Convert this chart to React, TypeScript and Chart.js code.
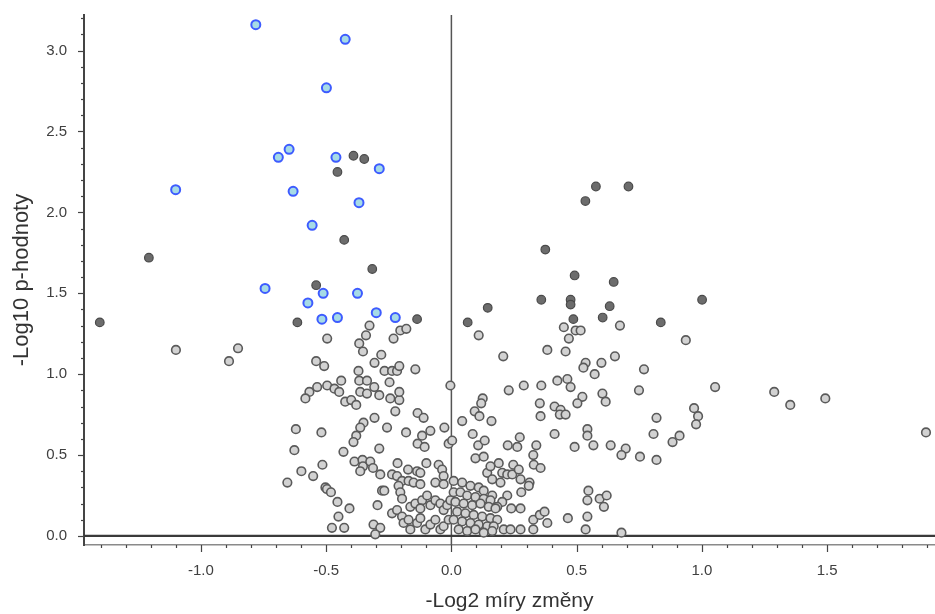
import { useEffect, useRef } from 'react';
import { Chart, registerables } from 'chart.js';

Chart.register(...registerables);

const xTickValues = [-1.0, -0.5, 0.0, 0.5, 1.0, 1.5];
const yTickValues = [0.0, 0.5, 1.0, 1.5, 2.0, 2.5, 3.0];
const xMin = -1.467;
const xMax = 1.931;
const yMin = -0.056;
const yMax = 3.22;
const xTitle = '-Log2 míry změny';
const yTitle = '-Log10 p-hodnoty';

// significant (blue) points [log2FC, -log10 p]
const bluePoints: [number, number][] = [
  [-0.781, 3.16], [-0.424, 3.07], [-0.499, 2.77], [-0.648, 2.39], [-0.691, 2.34],
  [-0.461, 2.34], [-0.288, 2.27], [-1.101, 2.14], [-0.632, 2.13], [-0.369, 2.06],
  [-0.556, 1.92], [-0.744, 1.53], [-0.512, 1.50], [-0.375, 1.50], [-0.573, 1.44],
  [-0.300, 1.38], [-0.517, 1.34], [-0.455, 1.35], [-0.224, 1.35],
];

// dark grey points
const darkPoints: [number, number][] = [
  [-0.391, 2.35], [-0.348, 2.33], [-0.455, 2.25], [-0.428, 1.83], [-0.316, 1.65],
  [-0.540, 1.55], [-0.615, 1.32], [-0.137, 1.34], [-1.208, 1.72], [-1.404, 1.32],
  [0.577, 2.16], [0.707, 2.16], [0.535, 2.07], [0.375, 1.77], [0.492, 1.61],
  [0.648, 1.57], [0.359, 1.46], [0.476, 1.46], [0.476, 1.43], [1.001, 1.46],
  [0.632, 1.42], [0.145, 1.41], [0.065, 1.32], [0.487, 1.34], [0.604, 1.35],
  [0.836, 1.32],
];

// light grey points
const grayPoints: [number, number][] = [
  [-1.10, 1.15], [-0.888, 1.08], [-0.852, 1.16],
  [-0.496, 1.22], [-0.540, 1.08], [-0.508, 1.05], [-0.496, 0.93], [-0.536, 0.92],
  [-0.567, 0.89], [-0.583, 0.85], [-0.621, 0.66], [-0.519, 0.64], [-0.627, 0.53],
  [-0.515, 0.44], [-0.599, 0.40], [-0.552, 0.37], [-0.655, 0.33], [-0.503, 0.30],
  [-0.327, 1.30], [-0.341, 1.24], [-0.368, 1.19], [-0.353, 1.14], [-0.204, 1.27],
  [-0.18, 1.28], [-0.231, 1.22], [-0.28, 1.12], [-0.307, 1.07], [-0.371, 1.02],
  [-0.267, 1.02], [-0.237, 1.02], [-0.217, 1.02], [-0.208, 1.05], [-0.144, 1.03],
  [-0.44, 0.96], [-0.467, 0.91], [-0.448, 0.89], [-0.368, 0.96], [-0.337, 0.96],
  [-0.364, 0.89], [-0.337, 0.88], [-0.308, 0.92], [-0.288, 0.87], [-0.424, 0.83],
  [-0.40, 0.84], [-0.38, 0.81], [-0.244, 0.85], [-0.208, 0.84], [-0.208, 0.89],
  [-0.247, 0.95], [-0.224, 0.77], [-0.307, 0.73], [-0.135, 0.76], [-0.111, 0.73],
  [-0.004, 0.93], [-0.351, 0.70], [-0.364, 0.67], [-0.38, 0.62], [-0.391, 0.58],
  [-0.257, 0.67], [-0.181, 0.64], [-0.117, 0.62], [-0.084, 0.65], [-0.135, 0.57],
  [-0.107, 0.55], [-0.028, 0.67], [-0.011, 0.57], [0.003, 0.59],
  [-0.431, 0.52], [-0.288, 0.54], [-0.387, 0.46], [-0.355, 0.47], [-0.353, 0.43],
  [-0.324, 0.46], [-0.313, 0.42], [-0.364, 0.40], [-0.215, 0.45], [-0.10, 0.45],
  [-0.284, 0.38], [-0.237, 0.38], [-0.217, 0.37], [-0.197, 0.34], [-0.211, 0.31],
  [-0.173, 0.41], [-0.137, 0.40], [-0.124, 0.39], [-0.051, 0.44], [-0.037, 0.41],
  [-0.031, 0.37], [-0.064, 0.33], [-0.031, 0.32], [-0.171, 0.34], [-0.151, 0.33],
  [-0.124, 0.32], [-0.497, 0.29], [-0.481, 0.27], [-0.277, 0.28], [-0.268, 0.28],
  [-0.204, 0.27], [-0.197, 0.23], [-0.455, 0.21], [-0.407, 0.17], [-0.295, 0.19],
  [-0.164, 0.18], [-0.144, 0.20], [-0.117, 0.22], [-0.097, 0.25], [-0.124, 0.17],
  [-0.084, 0.19], [-0.064, 0.22], [-0.044, 0.20], [-0.031, 0.16], [-0.017, 0.19],
  [-0.004, 0.22], [-0.451, 0.12], [-0.477, 0.05], [-0.428, 0.05], [-0.311, 0.07],
  [-0.284, 0.05], [-0.304, 0.01], [-0.237, 0.14], [-0.217, 0.16], [-0.197, 0.12],
  [-0.191, 0.08], [-0.171, 0.10], [-0.164, 0.04], [-0.137, 0.08], [-0.124, 0.11],
  [-0.104, 0.04], [-0.084, 0.07], [-0.064, 0.10], [-0.044, 0.04], [-0.031, 0.06],
  [-0.011, 0.10],
  [0.109, 1.24], [0.207, 1.11], [0.383, 1.15], [0.449, 1.29], [0.496, 1.27],
  [0.516, 1.27], [0.469, 1.22], [0.456, 1.14], [0.536, 1.07], [0.527, 1.04],
  [0.229, 0.90], [0.289, 0.93], [0.359, 0.93], [0.423, 0.96], [0.463, 0.97],
  [0.476, 0.92], [0.523, 0.86], [0.503, 0.82], [0.353, 0.82], [0.356, 0.74],
  [0.412, 0.80], [0.436, 0.78], [0.433, 0.75], [0.456, 0.75], [0.043, 0.71],
  [0.125, 0.85], [0.119, 0.82], [0.093, 0.77], [0.112, 0.74], [0.16, 0.71],
  [0.085, 0.63], [0.107, 0.56], [0.133, 0.59], [0.225, 0.56], [0.263, 0.55],
  [0.273, 0.61], [0.339, 0.56], [0.412, 0.63], [0.492, 0.55], [0.327, 0.50],
  [0.329, 0.44], [0.356, 0.42], [0.096, 0.48], [0.129, 0.49], [0.189, 0.45],
  [0.247, 0.44], [0.143, 0.39], [0.156, 0.43], [0.203, 0.39], [0.223, 0.38],
  [0.243, 0.38], [0.269, 0.41], [0.276, 0.35], [0.196, 0.33], [0.163, 0.35],
  [0.312, 0.33], [0.309, 0.31], [0.279, 0.27], [0.223, 0.25], [0.203, 0.21],
  [0.183, 0.18], [0.239, 0.17], [0.276, 0.17], [0.327, 0.10], [0.353, 0.13],
  [0.372, 0.15], [0.383, 0.08], [0.327, 0.04], [0.465, 0.11], [0.536, 0.04],
  [0.543, 0.12], [0.547, 0.28], [0.543, 0.22], [0.543, 0.66], [0.543, 0.62],
  [0.009, 0.34], [0.043, 0.33], [0.076, 0.31], [0.109, 0.30], [0.129, 0.28],
  [0.163, 0.25], [0.009, 0.27], [0.036, 0.27], [0.063, 0.25], [0.096, 0.24],
  [0.129, 0.23], [0.156, 0.22], [0.016, 0.21], [0.049, 0.20], [0.083, 0.19],
  [0.116, 0.20], [0.149, 0.18], [0.176, 0.17], [0.023, 0.15], [0.056, 0.14],
  [0.089, 0.13], [0.123, 0.12], [0.156, 0.11], [0.183, 0.10], [0.009, 0.10],
  [0.043, 0.09], [0.076, 0.08], [0.109, 0.07], [0.143, 0.06], [0.169, 0.06],
  [0.029, 0.04], [0.063, 0.03], [0.096, 0.04], [0.129, 0.02], [0.163, 0.03],
  [0.209, 0.04], [0.236, 0.04], [0.276, 0.04],
  [0.673, 1.30], [0.936, 1.21], [0.653, 1.11], [0.599, 1.07], [0.572, 1.00],
  [0.769, 1.03], [0.603, 0.88], [0.616, 0.83], [0.749, 0.90], [1.053, 0.92],
  [1.289, 0.89], [1.353, 0.81], [1.493, 0.85], [1.895, 0.64], [0.969, 0.79],
  [0.985, 0.74], [0.977, 0.69], [0.819, 0.73], [0.567, 0.56], [0.636, 0.56],
  [0.696, 0.54], [0.679, 0.50], [0.753, 0.49], [0.807, 0.63], [0.819, 0.47],
  [0.883, 0.58], [0.911, 0.62], [0.592, 0.23], [0.62, 0.25], [0.609, 0.18],
  [0.679, 0.02],
];

const FONT = '"Liberation Sans", Arial, sans-serif';

const toXY = (pts: [number, number][]) => pts.map(([x, y]) => ({ x, y }));

const decorPlugin = {
  id: 'volcanoDecor',
  beforeDatasetsDraw(chart: any) {
    const { ctx, chartArea, scales } = chart;
    const xs = scales.x;
    const ys = scales.y;
    ctx.save();
    const x0 = xs.getPixelForValue(0);
    ctx.strokeStyle = '#555555';
    ctx.lineWidth = 1.5;
    ctx.beginPath();
    ctx.moveTo(x0, chartArea.top);
    ctx.lineTo(x0, chartArea.bottom);
    ctx.stroke();
    const y0 = ys.getPixelForValue(0);
    ctx.strokeStyle = '#3a3a3a';
    ctx.lineWidth = 2.2;
    ctx.beginPath();
    ctx.moveTo(chartArea.left, y0);
    ctx.lineTo(chartArea.right, y0);
    ctx.stroke();
    ctx.restore();
  },
  afterDraw(chart: any) {
    const { ctx, chartArea, scales } = chart;
    const xs = scales.x;
    const ys = scales.y;
    ctx.save();
    ctx.strokeStyle = '#444444';
    ctx.lineWidth = 1.2;
    for (let k = Math.ceil(yMin * 10); k <= Math.floor(yMax * 10); k++) {
      const py = Math.round(ys.getPixelForValue(k / 10)) + 0.5;
      const len = k % 5 === 0 ? 6 : 3;
      ctx.beginPath();
      ctx.moveTo(chartArea.left - len, py);
      ctx.lineTo(chartArea.left, py);
      ctx.stroke();
    }
    for (let k = Math.ceil(xMin * 10); k <= Math.floor(xMax * 10); k++) {
      const px = Math.round(xs.getPixelForValue(k / 10)) + 0.5;
      const len = k % 5 === 0 ? 7 : 3;
      ctx.beginPath();
      ctx.moveTo(px, chartArea.bottom);
      ctx.lineTo(px, chartArea.bottom + len);
      ctx.stroke();
    }
    ctx.restore();
  },
};

export default function App() {
  const canvasRef = useRef<HTMLCanvasElement | null>(null);

  useEffect(() => {
    const canvas = canvasRef.current;
    if (!canvas) return;
    const chart = new Chart(canvas, {
      type: 'scatter',
      data: {
        datasets: [
          {
            label: 'significant',
            data: toXY(bluePoints),
            backgroundColor: '#a6dbe6',
            borderColor: '#3d5bff',
            borderWidth: 2,
            pointRadius: 4.5,
          },
          {
            label: 'dark',
            data: toXY(darkPoints),
            backgroundColor: '#6c6c6c',
            borderColor: '#4a4a4a',
            borderWidth: 1.2,
            pointRadius: 4.3,
          },
          {
            label: 'other',
            data: toXY(grayPoints),
            backgroundColor: '#d2d2d2',
            borderColor: '#5a5a5a',
            borderWidth: 1.6,
            pointRadius: 4.3,
          },
        ],
      },
      options: {
        animation: false,
        responsive: false,
        devicePixelRatio: 1,
        layout: { autoPadding: false, padding: { left: 0, top: 15, right: 0, bottom: 0 } },
        plugins: {
          legend: { display: false },
          tooltip: { enabled: false },
        },
        scales: {
          x: {
            type: 'linear',
            position: 'bottom',
            min: xMin,
            max: xMax,
            afterFit: (s: any) => {
              s.height = 69;
              s.paddingLeft = 0;
              s.paddingRight = 0;
            },
            afterBuildTicks: (s: any) => {
              s.ticks = xTickValues.map((v) => ({ value: v }));
            },
            grid: { display: false },
            border: { display: true, color: '#8a8a8a', width: 1.5 },
            ticks: {
              padding: 9,
              color: '#404040',
              font: { family: FONT, size: 15 },
              callback: (v: any) => Number(v).toFixed(1),
            },
            title: {
              display: true,
              text: xTitle,
              color: '#333333',
              font: { family: FONT, size: 21 },
              padding: { top: 0, bottom: 0 },
            },
          },
          y: {
            type: 'linear',
            position: 'left',
            min: yMin,
            max: yMax,
            afterFit: (s: any) => {
              s.width = 84;
              s.paddingTop = 0;
              s.paddingBottom = 0;
            },
            afterBuildTicks: (s: any) => {
              s.ticks = yTickValues.map((v) => ({ value: v }));
            },
            grid: { display: false },
            border: { display: true, color: '#444444', width: 2 },
            ticks: {
              padding: 9,
              color: '#404040',
              font: { family: FONT, size: 15 },
              callback: (v: any) => Number(v).toFixed(1),
            },
            title: {
              display: true,
              text: yTitle,
              color: '#333333',
              font: { family: FONT, size: 22 },
              padding: { top: 9, bottom: 0 },
            },
          },
        },
      },
      plugins: [decorPlugin],
    });
    return () => chart.destroy();
  }, []);

  return (
    <div style={{ position: 'fixed', left: 0, top: 0, width: 935, height: 614, background: '#ffffff' }}>
      <canvas ref={canvasRef} width={935} height={614} />
    </div>
  );
}
